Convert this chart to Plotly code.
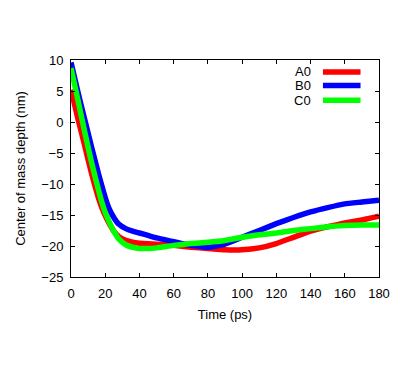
import plotly.graph_objects as go

time_ps = [0, 4, 8, 12, 16, 18, 20, 22, 25, 28, 32, 36, 40, 45, 50, 60, 70, 80, 90, 100,
           110, 120, 130, 140, 150, 160, 170, 180]
a0 = [5.2, 0.6, -3.8, -8.3, -12.2, -13.8, -15.1, -16.2, -17.6, -18.5, -19.1, -19.4, -19.55,
      -19.65, -19.7, -19.9, -20.2, -20.4, -20.6, -20.6, -20.3, -19.6, -18.6, -17.6,
      -16.9, -16.3, -15.8, -15.2]
b0 = [9.6, 4.9, 0.4, -4.0, -8.3, -10.3, -12.2, -13.8, -15.4, -16.5, -17.2, -17.6, -17.9,
      -18.3, -18.7, -19.3, -19.9, -20.2, -19.7, -18.6, -17.5, -16.4, -15.4, -14.5,
      -13.8, -13.2, -12.9, -12.6]
c0 = [8.7, 3.6, -1.6, -6.5, -10.9, -12.9, -14.6, -15.9, -17.6, -18.9, -19.8, -20.2, -20.4,
      -20.4, -20.3, -19.9, -19.6, -19.4, -19.1, -18.6, -18.2, -17.9, -17.5, -17.2,
      -16.9, -16.7, -16.6, -16.6]

series = [("A0", a0, "#ff0000"), ("B0", b0, "#0000ff"), ("C0", c0, "#00ff00")]
x_ticks = [0, 20, 40, 60, 80, 100, 120, 140, 160, 180]
y_ticks = [10, 5, 0, -5, -10, -15, -20, -25]

FONT = "Liberation Sans, Arial, sans-serif"
FS = 13
fig = go.Figure()
for name, vals, col in series:
    fig.add_trace(go.Scatter(x=time_ps, y=vals, mode="lines", name=name,
                             line=dict(color=col, width=5.5, shape="spline", smoothing=0.5),
                             showlegend=False, cliponaxis=True))

# gnuplot-style key: label then sample line
rows = [0.945, 0.883, 0.814]
for (name, vals, col), yy in zip(series, rows):
    fig.add_annotation(x=0.787, y=yy, xref="paper", yref="paper", text=name,
                       showarrow=False, xanchor="right", yanchor="middle",
                       font=dict(family=FONT, size=FS, color="black"))
    fig.add_shape(type="line", xref="paper", yref="paper", x0=0.818, x1=0.94,
                  y0=yy, y1=yy, line=dict(color=col, width=5.5))

axis_common = dict(showline=True, linecolor="black", linewidth=1, mirror="ticks",
                   ticks="inside", ticklen=4, tickcolor="black", showgrid=False,
                   zeroline=False, automargin=False, ticklabelstandoff=4,
                   tickfont=dict(family=FONT, size=FS, color="black"))
fig.update_xaxes(range=[0, 180], tickvals=x_ticks,
                 title=dict(text="Time (ps)", font=dict(family=FONT, size=FS, color="black"),
                            standoff=10), **axis_common)
fig.update_yaxes(range=[-25, 10], tickvals=y_ticks,
                 title=dict(text="Center of mass depth (nm)",
                            font=dict(family=FONT, size=FS, color="black"), standoff=12),
                 **axis_common)
fig.update_layout(width=400, height=368, margin=dict(l=63, r=29, t=52, b=99),
                  plot_bgcolor="white", paper_bgcolor="white",
                  font=dict(family=FONT, color="black"))
fig.write_html("out.html")
